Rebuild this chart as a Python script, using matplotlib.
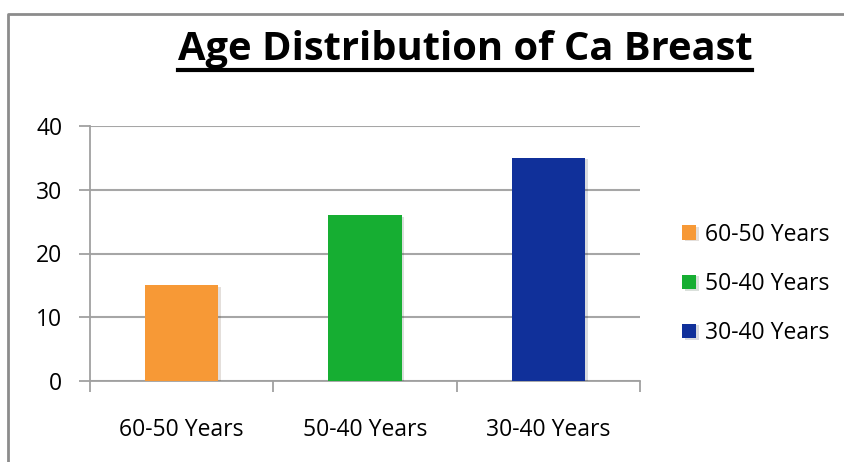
import matplotlib
matplotlib.use("Agg")
import matplotlib.pyplot as plt
from matplotlib.lines import Line2D
import matplotlib.patheffects as pe

categories = ["60-50 Years", "50-40 Years", "30-40 Years"]
values = [15, 26, 35]
colors = ["#F79936", "#16AE32", "#10309A"]
title = "Age Distribution of Ca Breast"

plt.rcParams["font.family"] = ["Open Sans", "DejaVu Sans"]

W, H = 845, 462
fig = plt.figure(figsize=(W / 100, H / 100), dpi=100)
fig.patch.set_facecolor("white")

# outer chart border, only top and left edges show
bx, by = 8.5 / W, 1 - 13.5 / H
fig.lines.append(Line2D([bx, bx, 1.0], [0.0, by, by], transform=fig.transFigure,
                        color="#8c8c8c", linewidth=2, solid_capstyle="butt"))

ax = fig.add_axes([90 / W, 81 / H, 550 / W, 255 / H])
x = list(range(len(categories)))
bars = ax.bar(x, values, width=0.40, color=colors, zorder=3)
for b in bars:
    b.set_path_effects([pe.SimplePatchShadow(offset=(2, -1), alpha=0.15), pe.Normal()])

ax.set_xlim(-0.5, 2.5)
ax.set_ylim(0, 40)
ax.set_yticks([0, 10, 20, 30, 40])
ax.set_xticks(x)
ax.set_xticklabels(categories, fontsize=16.5)
ax.set_xticks([-0.5, 0.5, 1.5, 2.5], minor=True)
ax.tick_params(axis="x", which="major", length=0, pad=27)
ax.tick_params(axis="x", which="minor", length=8, width=1.3, color="#a0a0a0", direction="out")
ax.tick_params(axis="y", length=8, width=1.3, color="#a0a0a0", direction="out",
               labelsize=16.5, pad=12)
ax.grid(axis="y", color="#a6a6a6", linewidth=1.5, zorder=0)
for s in ["top", "right"]:
    ax.spines[s].set_visible(False)
for s in ["left", "bottom"]:
    ax.spines[s].set_color("#a0a0a0")
    ax.spines[s].set_linewidth(1.3)

leg = fig.legend(handles=bars, labels=categories, loc="center left",
                 bbox_to_anchor=(673 / W, 1 - 284 / H), frameon=False,
                 fontsize=16.5, handlelength=0.6, handleheight=0.6,
                 handletextpad=0.4, labelspacing=1.1, borderaxespad=0)

t = fig.text(465 / W, 1 - 60 / H, title, ha="center", va="baseline",
             fontsize=28.7, fontweight="bold")
fig.canvas.draw()
bb = t.get_window_extent()
uy = (H - 69.5) / H
fig.lines.append(Line2D([bb.x0 / W, bb.x1 / W], [uy, uy], transform=fig.transFigure,
                        color="black", linewidth=3))

fig.savefig("out.png", dpi=100)
